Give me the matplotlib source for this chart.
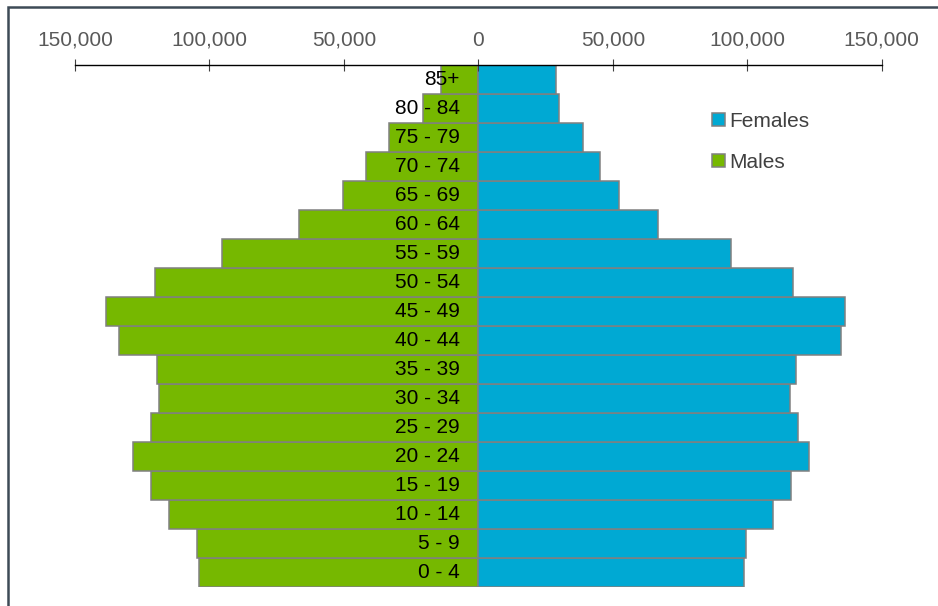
import matplotlib
matplotlib.use("Agg")
import matplotlib.pyplot as plt
from matplotlib.patches import Rectangle
from matplotlib.ticker import FuncFormatter

plt.rcParams['font.family'] = ['Liberation Sans', 'DejaVu Sans']

# age groups, youngest first
ages = ['0 - 4', '5 - 9', '10 - 14', '15 - 19', '20 - 24', '25 - 29',
        '30 - 34', '35 - 39', '40 - 44', '45 - 49', '50 - 54', '55 - 59',
        '60 - 64', '65 - 69', '70 - 74', '75 - 79', '80 - 84', '85+']
males = [103800, 104600, 115100, 121900, 128500, 121800, 118600, 119600,
         133500, 138400, 120400, 95400, 66600, 50200, 41700, 33100, 20400,
         14000]
females = [98900, 99500, 109600, 116100, 123000, 118700, 115900, 118100,
           134700, 136200, 117000, 93800, 66900, 52400, 45400, 38900, 30100,
           28800]
xticks = [-150000, -100000, -50000, 0, 50000, 100000, 150000]

green = '#76b800'
blue = '#00a9d3'
edge = '#808080'

fig = plt.figure(figsize=(9.38, 6.06), dpi=100)
ax = fig.add_axes([75 / 938, 1 - 587 / 606, (881.7 - 75) / 938, (587 - 65) / 606])

pos = list(range(len(ages)))
bm = ax.barh(pos, [-m for m in males], height=1.0, color=green,
             edgecolor=edge, linewidth=1.1, label='Males')
bf = ax.barh(pos, females, height=1.0, color=blue,
             edgecolor=edge, linewidth=1.1, label='Females')

for p, a in zip(pos, ages):
    ax.annotate(a, xy=(0, p), xytext=(-13.5, 0), textcoords='offset points',
                ha='right', va='center', fontsize=15, color='black')

ax.set_xlim(-150000, 150000)
ax.set_ylim(-0.5, len(ages) - 0.5)
ax.set_xticks(xticks)
ax.xaxis.set_major_formatter(FuncFormatter(lambda v, _: f'{abs(v):,.0f}'))
ax.xaxis.tick_top()
ax.tick_params(axis='x', direction='inout', length=8.6, width=0.8,
               color='#404040', labelcolor='#595959', labelsize=15, pad=6.5)
ax.set_yticks([])
for s in ['left', 'right', 'bottom']:
    ax.spines[s].set_visible(False)
ax.spines['top'].set_linewidth(1.0)
ax.spines['top'].set_color('black')

leg = ax.legend([bf, bm], ['Females', 'Males'], loc='upper left',
                bbox_to_anchor=(712 / 938, 1 - 112 / 606),
                bbox_transform=fig.transFigure, frameon=False,
                fontsize=15, handlelength=0.6, handleheight=0.6,
                handletextpad=0.25, labelspacing=1.05, borderpad=0,
                borderaxespad=0)
for t in leg.get_texts():
    t.set_color('#404040')

# outer frame, cut off on the right and bottom
fig.patches.append(Rectangle((8 / 938, -0.1), 1.2, 1.1 - 7 / 606,
                             transform=fig.transFigure, fill=False,
                             edgecolor='#3d4a56', linewidth=1.8))

fig.savefig('out.png', dpi=100)
